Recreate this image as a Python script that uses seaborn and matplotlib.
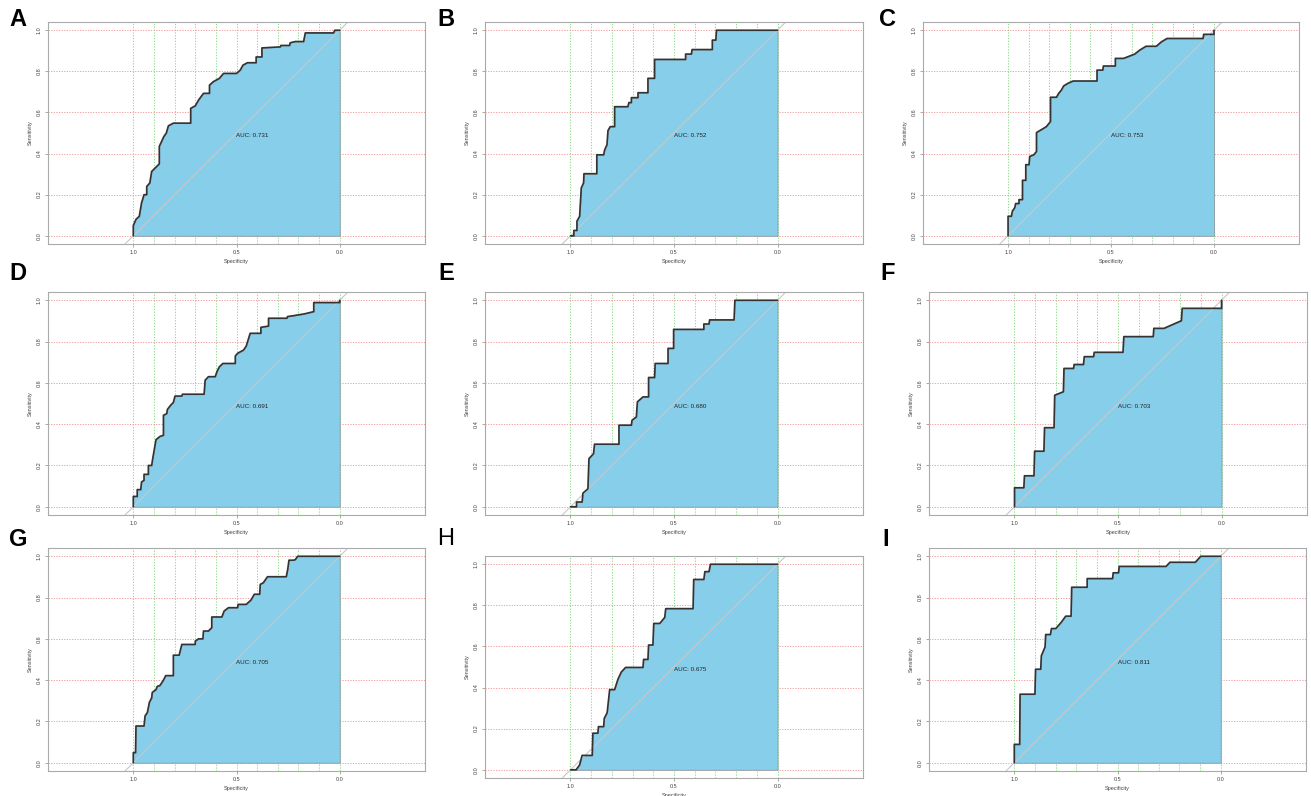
import numpy as np
import pandas as pd
import matplotlib
matplotlib.use("Agg")
import matplotlib.pyplot as plt
import seaborn as sns

sns.set_style("white")
plt.rcParams['font.family'] = ['Liberation Sans', 'DejaVu Sans']

# ---------------- data (specificity, sensitivity vertices) ----------------
panel_labels = ["A", "B", "C", "D", "E", "F", "G", "H", "I"]
auc_values = [0.731, 0.752, 0.753, 0.691, 0.680, 0.703, 0.705, 0.675, 0.811]

spec_A = [1.0, 1.0, 0.987, 0.971, 0.96, 0.948, 0.935, 0.935, 0.92, 0.911, 0.874, 0.874, 0.852, 0.84, 0.83, 0.806,
          0.722, 0.722, 0.70, 0.684, 0.66, 0.631, 0.631, 0.612, 0.583, 0.563, 0.50, 0.482, 0.469, 0.447, 0.405,
          0.405, 0.377, 0.377, 0.288, 0.285, 0.243, 0.24, 0.215, 0.175, 0.167, 0.03, 0.024, 0.0]
sens_A = [0.0, 0.05, 0.08, 0.095, 0.16, 0.2, 0.2, 0.24, 0.257, 0.313, 0.35, 0.435, 0.483, 0.5, 0.535, 0.548,
          0.548, 0.62, 0.632, 0.66, 0.693, 0.693, 0.733, 0.75, 0.766, 0.79, 0.79, 0.806, 0.83, 0.842, 0.842,
          0.87, 0.87, 0.914, 0.919, 0.926, 0.926, 0.939, 0.945, 0.945, 0.987, 0.987, 1.0, 1.0]

spec_B = [1.0, 0.984, 0.984, 0.969, 0.969, 0.956, 0.948, 0.937, 0.935, 0.873, 0.873, 0.84, 0.835, 0.824, 0.819,
          0.808, 0.787, 0.787, 0.723, 0.718, 0.706, 0.706, 0.674, 0.674, 0.626, 0.626, 0.594, 0.594, 0.444, 0.444,
          0.416, 0.413, 0.315, 0.315, 0.298, 0.295, 0.0]
sens_B = [0.0, 0.0, 0.026, 0.026, 0.071, 0.095, 0.233, 0.257, 0.302, 0.302, 0.394, 0.394, 0.418, 0.443, 0.512,
          0.531, 0.531, 0.628, 0.628, 0.648, 0.648, 0.672, 0.672, 0.696, 0.696, 0.766, 0.766, 0.858, 0.858, 0.884,
          0.884, 0.906, 0.906, 0.952, 0.952, 1.0, 1.0]

spec_C = [1.0, 1.0, 0.984, 0.979, 0.968, 0.963, 0.947, 0.947, 0.93, 0.93, 0.914, 0.914, 0.898, 0.895, 0.875, 0.862,
          0.862, 0.814, 0.794, 0.794, 0.765, 0.754, 0.741, 0.73, 0.709, 0.684, 0.568, 0.568, 0.54, 0.537, 0.479,
          0.479, 0.439, 0.385, 0.361, 0.33, 0.28, 0.256, 0.228, 0.053, 0.05, 0.0, 0.0]
sens_C = [0.0, 0.095, 0.095, 0.12, 0.136, 0.157, 0.157, 0.176, 0.176, 0.27, 0.27, 0.346, 0.346, 0.386, 0.394, 0.41,
          0.502, 0.531, 0.556, 0.674, 0.674, 0.693, 0.709, 0.729, 0.742, 0.753, 0.753, 0.806, 0.806, 0.826, 0.826,
          0.863, 0.863, 0.884, 0.903, 0.922, 0.922, 0.943, 0.96, 0.96, 0.98, 0.98, 1.0]

spec_D = [1.0, 1.0, 0.981, 0.981, 0.964, 0.96, 0.948, 0.948, 0.927, 0.927, 0.911, 0.906, 0.89, 0.87, 0.854, 0.854,
          0.838, 0.835, 0.819, 0.806, 0.798, 0.765, 0.762, 0.657, 0.652, 0.636, 0.603, 0.595, 0.583, 0.566, 0.506,
          0.506, 0.495, 0.466, 0.453, 0.434, 0.382, 0.382, 0.345, 0.345, 0.256, 0.253, 0.22, 0.172, 0.126, 0.126,
          0.0, 0.0]
sens_D = [0.0, 0.05, 0.05, 0.083, 0.083, 0.12, 0.128, 0.157, 0.157, 0.2, 0.2, 0.233, 0.325, 0.341, 0.346, 0.443,
          0.451, 0.471, 0.492, 0.505, 0.536, 0.536, 0.545, 0.545, 0.613, 0.63, 0.63, 0.654, 0.678, 0.694, 0.694,
          0.73, 0.743, 0.759, 0.778, 0.84, 0.84, 0.869, 0.875, 0.913, 0.913, 0.921, 0.926, 0.934, 0.945, 0.989,
          0.989, 1.0]

spec_E = [1.0, 0.971, 0.971, 0.944, 0.94, 0.916, 0.911, 0.889, 0.884, 0.766, 0.766, 0.706, 0.703, 0.682, 0.677,
          0.65, 0.623, 0.623, 0.594, 0.591, 0.529, 0.529, 0.502, 0.502, 0.356, 0.356, 0.331, 0.328, 0.21, 0.206, 0.0]
sens_E = [0.0, 0.0, 0.023, 0.023, 0.066, 0.087, 0.233, 0.257, 0.303, 0.303, 0.395, 0.395, 0.419, 0.435, 0.508,
          0.532, 0.532, 0.626, 0.626, 0.694, 0.694, 0.767, 0.767, 0.859, 0.859, 0.885, 0.885, 0.905, 0.905, 1.0, 1.0]

spec_F = [1.0, 1.0, 0.955, 0.952, 0.906, 0.903, 0.858, 0.855, 0.809, 0.806, 0.764, 0.761, 0.715, 0.712, 0.667,
          0.663, 0.618, 0.615, 0.476, 0.472, 0.33, 0.327, 0.278, 0.194, 0.19, 0.0, 0.0]
sens_F = [0.0, 0.092, 0.092, 0.15, 0.15, 0.269, 0.269, 0.383, 0.383, 0.54, 0.557, 0.67, 0.67, 0.689, 0.689,
          0.727, 0.727, 0.748, 0.748, 0.824, 0.824, 0.864, 0.864, 0.901, 0.961, 0.961, 1.0]

spec_G = [1.0, 1.0, 0.989, 0.987, 0.948, 0.943, 0.932, 0.922, 0.911, 0.908, 0.89, 0.884, 0.871, 0.854, 0.843,
          0.806, 0.806, 0.778, 0.765, 0.70, 0.70, 0.684, 0.663, 0.66, 0.636, 0.62, 0.62, 0.571, 0.56, 0.539, 0.495,
          0.492, 0.453, 0.43, 0.414, 0.388, 0.385, 0.37, 0.35, 0.259, 0.252, 0.246, 0.223, 0.215, 0.204, 0.0]
sens_G = [0.0, 0.049, 0.049, 0.178, 0.178, 0.227, 0.243, 0.293, 0.314, 0.341, 0.354, 0.37, 0.374, 0.4, 0.422,
          0.422, 0.521, 0.521, 0.573, 0.573, 0.589, 0.6, 0.6, 0.638, 0.638, 0.654, 0.706, 0.706, 0.735, 0.751, 0.751,
          0.767, 0.767, 0.788, 0.816, 0.816, 0.864, 0.872, 0.901, 0.901, 0.937, 0.981, 0.981, 0.984, 1.0, 1.0]

spec_H = [1.0, 0.973, 0.956, 0.944, 0.895, 0.892, 0.868, 0.865, 0.84, 0.837, 0.823, 0.811, 0.787, 0.771, 0.755,
          0.734, 0.65, 0.647, 0.626, 0.623, 0.602, 0.598, 0.569, 0.545, 0.54, 0.408, 0.405, 0.356, 0.351, 0.331,
          0.324, 0.0]
sens_H = [0.0, 0.0, 0.024, 0.07, 0.07, 0.178, 0.178, 0.21, 0.21, 0.25, 0.278, 0.39, 0.39, 0.44, 0.475, 0.498,
          0.498, 0.537, 0.537, 0.607, 0.607, 0.712, 0.712, 0.741, 0.784, 0.784, 0.926, 0.926, 0.964, 0.964, 1.0, 1.0]

spec_I = [1.0, 1.0, 0.974, 0.972, 0.90, 0.897, 0.872, 0.869, 0.851, 0.848, 0.825, 0.82, 0.799, 0.772, 0.751,
          0.725, 0.722, 0.647, 0.647, 0.524, 0.521, 0.495, 0.492, 0.265, 0.246, 0.123, 0.097, 0.0]
sens_I = [0.0, 0.089, 0.089, 0.332, 0.332, 0.453, 0.453, 0.518, 0.561, 0.621, 0.621, 0.65, 0.65, 0.681, 0.71,
          0.71, 0.85, 0.85, 0.892, 0.892, 0.92, 0.92, 0.951, 0.951, 0.971, 0.971, 1.0, 1.0]

specs = [spec_A, spec_B, spec_C, spec_D, spec_E, spec_F, spec_G, spec_H, spec_I]
senss = [sens_A, sens_B, sens_C, sens_D, sens_E, sens_F, sens_G, sens_H, sens_I]

x_ticks = [1.0, 0.5, 0.0]
y_ticks = [0.0, 0.2, 0.4, 0.6, 0.8, 1.0]

# ---------------- layout (pixel boxes: left, top, right, bottom) ----------------
W, H = 1311, 796
boxes = [
    (48, 22, 425, 244), (485, 22, 863, 244), (923, 22, 1299, 244),
    (48, 292, 425, 515), (485, 292, 863, 515), (929, 292, 1307, 515),
    (48, 548, 425, 771), (485, 556, 863, 778), (929, 548, 1306, 771),
]
label_pos = [(18, 20), (446, 20), (888, 20),
             (18, 273), (446, 273), (888, 273),
             (18, 540), (446, 539), (886, 539)]

fig = plt.figure(figsize=(W / 100, H / 100), dpi=100)

fill_color = "#87CEEB"
curve_color = "#333333"

for i in range(9):
    l, t, r, b = boxes[i]
    ax = fig.add_axes([l / W, 1 - b / H, (r - l) / W, (b - t) / H])
    ax.set_xlim(1.413, -0.413)
    ax.set_ylim(-0.04, 1.04)

    # grid
    for gx in np.arange(0, 1.01, 0.1):
        ax.axvline(gx, color="#8fdc8f", lw=0.75, ls=(0, (1.2, 1.5)), zorder=0.5)
    for gy in np.arange(0, 1.01, 0.2):
        ax.axhline(gy, color="#f29a9a", lw=0.7, ls=(0, (1.2, 1.5)), zorder=0.5)

    df = pd.DataFrame({"Specificity": specs[i], "Sensitivity": senss[i]})
    ax.fill_between(df["Specificity"], df["Sensitivity"], 0, facecolor=fill_color,
                    edgecolor="#8a9aa0", lw=0.6, zorder=1)
    # diagonal reference
    ax.axline((1, 0), slope=-1, color="#c8c8c8", lw=0.8, zorder=1.5)
    sns.lineplot(data=df, x="Specificity", y="Sensitivity", sort=False, estimator=None,
                 color=curve_color, lw=1.2, ax=ax, zorder=2)

    ax.text(0.5, 0.5, f"AUC: {auc_values[i]:.3f}", ha="left", va="top", fontsize=4.5,
            color="#222222", zorder=3)

    ax.set_xticks(x_ticks)
    ax.set_xticklabels([f"{v:.1f}" for v in x_ticks])
    ax.set_yticks(y_ticks)
    ax.set_yticklabels([f"{v:.1f}" for v in y_ticks], rotation=90, va="center")
    ax.tick_params(axis="both", labelsize=4, length=2.5, width=0.5, pad=2,
                   color="#888888", labelcolor="#444444", direction="out",
                   bottom=True, left=True)
    ax.set_xlabel("Specificity", fontsize=4, labelpad=3, color="#444444")
    ax.set_ylabel("Sensitivity", fontsize=4, labelpad=3, color="#444444")
    for s in ax.spines.values():
        s.set_color("#aaaaaa")
        s.set_linewidth(0.8)
    ax.grid(False)

    lx, ly = label_pos[i]
    fig.text(lx / W, 1 - ly / H, panel_labels[i], fontsize=17,
             fontweight=("normal" if panel_labels[i] == "H" else "bold"),
             ha="center", va="center", color="black")

fig.savefig("out.png", dpi=100)
